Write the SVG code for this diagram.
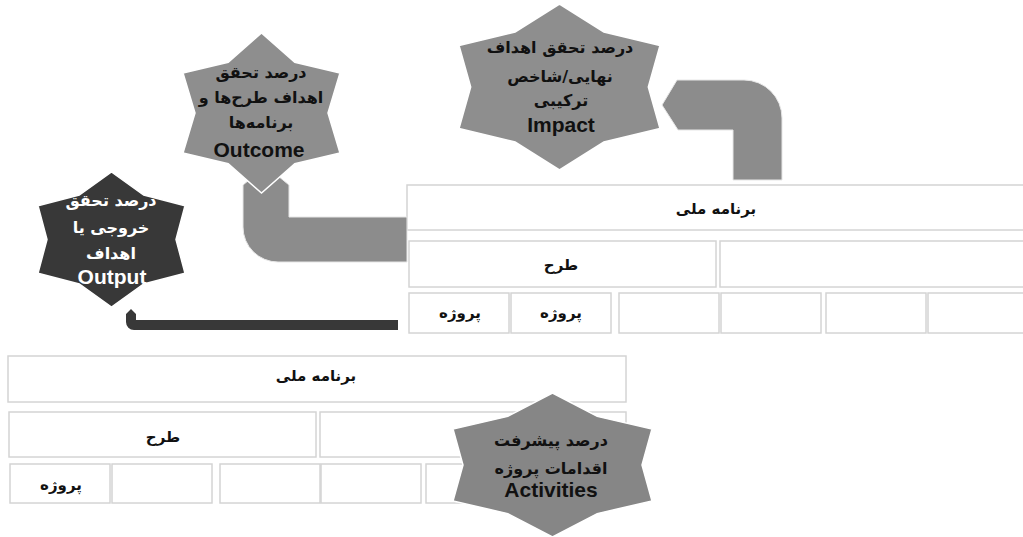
<svg xmlns="http://www.w3.org/2000/svg" width="1023" height="537" viewBox="0 0 1023 537">
<style>
.cell{fill:#ffffff;stroke:#d4d4d4;stroke-width:1.5}
.fa{font-family:"DejaVu Sans",sans-serif;font-weight:bold;text-anchor:middle;direction:rtl}
.t16{font-size:15px;fill:#111}
.s17{font-size:16px}
.en{font-family:"Liberation Sans",Arial,sans-serif;font-weight:bold;font-size:21px;text-anchor:middle}
.grey{fill:#8e8e8e;stroke:#ffffff;stroke-width:1.5}
.dark{fill:#383838;stroke:#ffffff;stroke-width:1.5}
.act{fill:#868686;stroke:#ffffff;stroke-width:1.5}
.pipe{fill:#8c8c8c;stroke:#e6e6e6;stroke-width:1}
.pipedark{fill:#383838}
.ink{fill:#111}
.white{fill:#ffffff}
</style>
<rect width="1023" height="537" fill="#ffffff"/>

<g id="table-upper">
  <g id="u-program"><rect class="cell" x="407" y="185" width="620" height="45"/><text class="fa t16" x="716" y="214">برنامه ملی</text></g>
  <g id="u-plan1"><rect class="cell" x="409" y="241" width="307" height="46"/><text class="fa t16" x="561" y="270">طرح</text></g>
  <g id="u-plan2"><rect class="cell" x="720" y="241" width="307" height="46"/></g>
  <g id="u-proj1"><rect class="cell" x="409" y="293" width="100" height="40"/><text class="fa t16" x="460" y="318">پروژه</text></g>
  <g id="u-proj2"><rect class="cell" x="511" y="293" width="100" height="40"/><text class="fa t16" x="561" y="318">پروژه</text></g>
  <g id="u-proj3"><rect class="cell" x="619" y="293" width="100" height="40"/></g>
  <g id="u-proj4"><rect class="cell" x="721" y="293" width="100" height="40"/></g>
  <g id="u-proj5"><rect class="cell" x="826" y="293" width="100" height="40"/></g>
  <g id="u-proj6"><rect class="cell" x="928" y="293" width="100" height="40"/></g>
</g>

<g id="table-lower">
  <g id="l-program"><rect class="cell" x="8" y="356" width="618" height="46"/><text class="fa t16" x="316" y="381">برنامه ملی</text></g>
  <g id="l-plan1"><rect class="cell" x="9" y="412" width="307" height="45"/><text class="fa t16" x="163" y="442">طرح</text></g>
  <g id="l-plan2"><rect class="cell" x="320" y="412" width="306" height="45"/></g>
  <g id="l-proj1"><rect class="cell" x="10" y="464" width="100" height="39"/><text class="fa t16" x="61" y="490">پروژه</text></g>
  <g id="l-proj2"><rect class="cell" x="112" y="464" width="100" height="39"/></g>
  <g id="l-proj3"><rect class="cell" x="220" y="464" width="100" height="39"/></g>
  <g id="l-proj4"><rect class="cell" x="321" y="464" width="100" height="39"/></g>
  <g id="l-proj5"><rect class="cell" x="426" y="464" width="100" height="39"/></g>
</g>

<g id="connectors">
  <path id="pipe-impact" class="pipe" d="M662,105 L677,80 L744,80 A38,38 0 0 1 782,118 L782,180 L733,180 L733,130 L678,130 Z"/>
  <path id="pipe-outcome" class="pipe" d="M243,185 L266,166 L289,185 L289,217 L407,217 L407,262 L278,262 A35,35 0 0 1 243,227 Z"/>
  <path id="pipe-output" class="pipedark" d="M126,314 L131,309 L136,314 L136,320 L398,320 L398,330 L134,330 A8,8 0 0 1 126,322 Z"/>
</g>

<g id="star-impact">
  <polygon class="grey" points="559.5,4 603.9,32 660,45.5 648.3,87 660,128.5 603.9,142 559.5,170 515.1,142 459,128.5 470.7,87 459,45.5 515.1,32"/>
  <text class="fa s17 ink" x="560" y="53">درصد تحقق اهداف</text>
  <text class="fa s17 ink" x="560" y="82">نهایی/شاخص</text>
  <text class="fa s17 ink" x="561" y="106">ترکیبی</text>
  <text class="en ink" x="561" y="132">Impact</text>
</g>

<g id="star-outcome">
  <polygon class="grey" points="261.5,33 294.8,62.2 340,73 328,113 340,153 294.8,163.8 261.5,193 228.2,163.8 183,153 195,113 183,73 228.2,62.2"/>
  <text class="fa s17 ink" x="261" y="78">درصد تحقق</text>
  <text class="fa s17 ink" x="261" y="103">اهداف طرح‌ها و</text>
  <text class="fa s17 ink" x="261" y="128">برنامه‌ها</text>
  <text class="en ink" x="259" y="157">Outcome</text>
</g>

<g id="star-output">
  <polygon class="dark" points="111.5,172 143.75,195.1 185,205.75 176,239.5 185,273.25 143.75,283.9 111.5,307 79.25,283.9 38,273.25 47,239.5 38,205.75 79.25,195.1"/>
  <text class="fa s17 white" x="111" y="206">درصد تحقق</text>
  <text class="fa s17 white" x="111" y="233">خروجی یا</text>
  <text class="fa s17 white" x="111" y="259">اهداف</text>
  <text class="en white" x="112" y="284">Output</text>
</g>

<g id="star-activities">
  <polygon class="act" points="552.5,393 597.25,416.4 652,429 642,465 652,501 597.25,513.6 552.5,537 507.75,513.6 453,501 463,465 453,429 507.75,416.4"/>
  <text class="fa s17 ink" x="551" y="446">درصد پیشرفت</text>
  <text class="fa s17 ink" x="551" y="474">اقدامات پروژه</text>
  <text class="en ink" x="551" y="497">Activities</text>
</g>
</svg>
